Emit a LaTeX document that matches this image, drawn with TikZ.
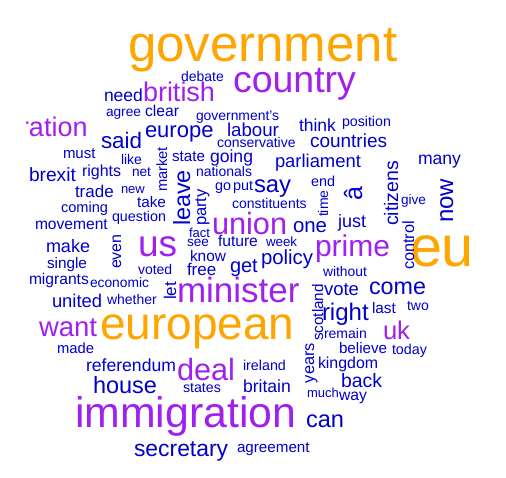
\documentclass[tikz,border=0pt]{standalone}
\usepackage{fontspec}
\setmainfont{Liberation Sans}
\definecolor{wor}{HTML}{FFA500}
\definecolor{wpu}{HTML}{A020F0}
\definecolor{wbl}{HTML}{0000CD}
\tikzset{
  wd/.style={inner sep=0pt, outer sep=0pt, anchor=base west, font=\fontsize{#1}{#1}\selectfont},
  ora/.style={text=wor},
  pur/.style={text=wpu},
  blu/.style={text=wbl},
  up/.style={rotate=90},
}
\begin{document}
\begin{tikzpicture}[x=1pt,y=-1pt]
\useasboundingbox (0,0) rectangle (506,478);
\fill[white] (0,0) rectangle (506,478);
% big words
\node[wd=51,ora] (government) at (128,62) {government};
\node[wd=37.5,pur] (country) at (233,93) {country};
\node[wd=14,blu] (debate) at (181,82) {debate};
\node[wd=17.5,blu] (need) at (104,102) {need};
\node[wd=27,pur] (british) at (143,102) {british};
\node[wd=13.7,blu] (agree) at (106,117) {agree};
\node[wd=15.7,blu] (clear) at (145,117) {clear};
\node[wd=13.9,blu] (governments) at (196,121) {government's};
\begin{scope}
\clip (26,100) rectangle (100,150);
\node[wd=27,pur] (ration) at (20,137) {ration};
\end{scope}
\node[wd=22.4,blu] (said) at (101,149) {said};
\node[wd=22,blu] (europe) at (145,138) {europe};
\node[wd=18.7,blu] (labour) at (227,137) {labour};
\node[wd=17.5,blu] (think) at (299,132) {think};
\node[wd=14.2,blu] (position) at (342,127) {position};
\node[wd=14,blu] (conservative) at (217,148) {conservative};
\node[wd=19,blu] (countries) at (310,148) {countries};
\node[wd=15,blu] (must) at (63,159) {must};
\node[wd=14,blu] (like) at (121,165) {like};
\node[wd=14.7,blu,up] (market) at (167,192) {market};
\node[wd=15.2,blu] (state) at (172,162) {state};
\node[wd=17.6,blu] (going) at (210,163) {going};
\node[wd=18.4,blu] (parliament) at (275,168) {parliament};
\node[wd=17.6,blu] (many) at (418,165) {many};
\node[wd=19.2,blu] (brexit) at (29,182) {brexit};
\node[wd=16,blu] (rights) at (82,177) {rights};
\node[wd=13.7,blu] (net) at (132,177) {net};
\node[wd=14,blu] (nationals) at (196,177) {nationals};
\node[wd=17,blu] (trade) at (75,198) {trade};
\node[wd=13,blu] (new) at (121,194) {new};
\node[wd=23.4,blu,up] (leave) at (190,226) {leave};
\node[wd=16.6,blu,up] (party) at (206,226) {party};
\node[wd=14.4,blu] (go) at (215,191) {go};
\node[wd=14.4,blu] (put) at (233,191) {put};
\node[wd=23.8,blu] (say) at (254,193) {say};
\node[wd=14.4,blu] (end) at (311,187) {end};
\node[wd=14,blu,up] (time) at (328,217) {time};
\node[wd=25,blu,up] (acirc) at (362,201) {â};
\node[wd=19.5,blu,up] (citizens) at (398,226) {citizens};
\node[wd=13.6,blu] (give) at (401,205) {give};
\node[wd=24,blu,up] (now) at (453,223) {now};
\node[wd=14.6,blu] (coming) at (61,213) {coming};
\node[wd=15.3,blu] (take) at (137,208) {take};
\node[wd=14.3,blu] (question) at (112,222) {question};
\node[wd=14,blu] (constituents) at (232,209) {constituents};
\node[wd=15.6,blu] (movement) at (35,230) {movement};
\node[wd=30.7,pur] (union) at (212,235) {union};
\node[wd=20.4,blu] (one) at (293,233) {one};
\node[wd=18,blu] (just) at (338,228) {just};
\node[wd=13,blu] (fact) at (189,238) {fact};
\node[wd=37,pur] (us) at (138,257) {us};
\node[wd=13.6,blu] (see) at (187,247) {see};
\node[wd=15.6,blu] (future) at (218,247) {future};
\node[wd=13.3,blu] (week) at (266,247) {week};
\node[wd=30,pur] (prime) at (315,257) {prime};
\node[wd=57.5,ora] (eu) at (410,267) {eu};
\node[wd=16.3,blu,up] (control) at (414,270) {control};
\node[wd=18,blu] (make) at (46,253) {make};
\node[wd=16,blu,up] (even) at (121,269) {even};
\node[wd=15.4,blu] (know) at (190,262) {know};
\node[wd=15.3,blu] (single) at (47,269) {single};
\node[wd=20,blu] (get) at (230,273) {get};
\node[wd=20.4,blu] (policy) at (261,265) {policy};
\node[wd=17,blu] (free) at (187,276) {free};
\node[wd=14,blu] (voted) at (138,275) {voted};
\node[wd=13.9,blu] (without) at (323,277) {without};
\node[wd=15.6,blu] (migrants) at (29,285) {migrants};
\node[wd=13.8,blu] (economic) at (90,288) {economic};
\node[wd=17,blu,up] (let) at (176,300) {let};
\node[wd=35,pur] (minister) at (177,303) {minister};
\node[wd=18.4,blu] (united) at (52,308) {united};
\node[wd=14,blu] (whether) at (107,305) {whether};
\node[wd=18.5,blu] (vote) at (324,296) {vote};
\node[wd=23.3,blu] (come) at (369,295) {come};
\node[wd=15.3,blu,up] (scotland) at (323,341) {scotland};
\node[wd=24,blu] (right) at (322,320) {right};
\node[wd=15.4,blu] (last) at (372,313) {last};
\node[wd=14,blu] (two) at (407,311) {two};
\node[wd=27.5,pur] (want) at (39,337) {want};
\node[wd=46,ora] (european) at (100,340) {european};
\node[wd=25.6,pur] (uk) at (383,340) {uk};
\node[wd=14,blu] (remain) at (324,338) {remain};
\node[wd=14.8,blu] (made) at (57,353) {made};
\node[wd=15.2,blu] (believe) at (339,353) {believe};
\node[wd=14.3,blu] (today) at (392,354) {today};
\node[wd=17.6,blu] (referendum) at (86,371) {referendum};
\node[wd=30.7,pur] (deal) at (177,380) {deal};
\node[wd=14.3,blu] (ireland) at (243,370) {ireland};
\node[wd=16.4,blu,up] (years) at (314,383) {years};
\node[wd=15.9,blu] (kingdom) at (318,368) {kingdom};
\node[wd=23.5,blu] (house) at (93,393) {house};
\node[wd=14.2,blu] (states) at (183,392) {states};
\node[wd=17.6,blu] (britain) at (243,392) {britain};
\node[wd=19.4,blu] (back) at (341,387) {back};
\node[wd=13,blu] (much) at (307,397) {much};
\node[wd=15.7,blu] (way) at (339,400) {way};
\node[wd=42.8,pur] (immigration) at (75,427) {immigration};
\node[wd=23.6,blu] (can) at (306,427) {can};
\node[wd=22.9,blu] (secretary) at (134,456) {secretary};
\node[wd=15.2,blu] (agreement) at (237,452) {agreement};
\end{tikzpicture}
\end{document}
